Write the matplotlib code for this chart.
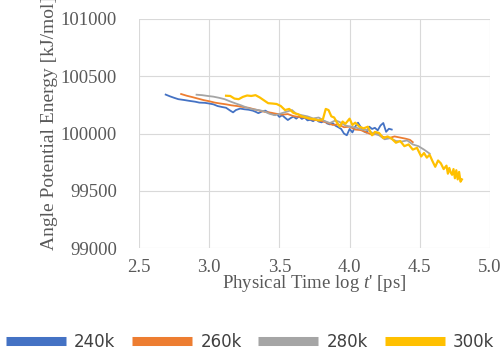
import numpy as np
import matplotlib
matplotlib.use('Agg')
import matplotlib.pyplot as plt
from matplotlib.lines import Line2D

# series: x = log t' [ps], y = angle potential energy [kJ/mol]
x240 = [2.69, 2.72, 2.75, 2.78, 2.82, 2.86, 2.90, 2.93, 2.97, 3.00, 3.03, 3.06, 3.09, 3.12, 3.15,
        3.17, 3.19, 3.22, 3.25, 3.28, 3.31, 3.33, 3.35, 3.38,
        3.40, 3.42, 3.44, 3.46, 3.48, 3.50, 3.52, 3.54, 3.56, 3.58, 3.60, 3.62, 3.64, 3.66, 3.68,
        3.70, 3.72, 3.74, 3.76, 3.78, 3.80, 3.82, 3.84, 3.86, 3.88, 3.90, 3.92, 3.94, 3.96, 3.98,
        4.00, 4.02, 4.04, 4.06, 4.08, 4.10, 4.12, 4.14, 4.16, 4.18, 4.20, 4.22, 4.24, 4.26, 4.28,
        4.30]
y240 = [100340, 100325, 100312, 100300, 100293, 100285, 100278, 100270, 100268, 100262, 100255,
        100240, 100232, 100225, 100200, 100185, 100205, 100218, 100212, 100208, 100200, 100190,
        100178, 100195,
        100200, 100185, 100178, 100165, 100172, 100145, 100160, 100138, 100118, 100135, 100148,
        100130, 100150, 100128, 100140, 100115, 100120, 100108, 100125, 100105, 100098, 100110,
        100088, 100080, 100090, 100068, 100055, 100040, 100000, 99985, 100040, 100010, 100060,
        100095, 100055, 100020, 100008, 100060, 100040, 100050, 100028, 100070, 100092, 100015,
        100042, 100035]

x260 = [2.80, 2.84, 2.88, 2.92, 2.96, 3.00, 3.04, 3.08, 3.12, 3.16, 3.20, 3.24, 3.28, 3.32, 3.36,
        3.40, 3.44, 3.48, 3.52, 3.56, 3.60, 3.64, 3.68, 3.72, 3.76, 3.80, 3.84, 3.88, 3.92, 3.96,
        4.00, 4.04, 4.08, 4.12, 4.16, 4.20, 4.24, 4.28, 4.32, 4.36, 4.40, 4.43, 4.45]
y260 = [100345, 100330, 100318, 100305, 100292, 100282, 100270, 100262, 100255, 100246, 100240,
        100232, 100225, 100212, 100200, 100188, 100182, 100172, 100165, 100170, 100152, 100145,
        100140, 100125, 100118, 100110, 100095, 100075, 100080, 100055, 100060, 100035, 100030,
        100010, 99990, 99998, 99970, 99960, 99975, 99965, 99955, 99945, 99925]

x280 = [2.91, 2.95, 2.99, 3.03, 3.07, 3.11, 3.15, 3.19, 3.23, 3.27, 3.31, 3.35, 3.39, 3.43, 3.47,
        3.51, 3.55, 3.59, 3.62, 3.66, 3.70, 3.74, 3.78, 3.82, 3.86, 3.90, 3.93, 3.97, 4.01, 4.05,
        4.09, 4.13, 4.17, 4.21, 4.25, 4.29, 4.33, 4.37, 4.41, 4.45, 4.49, 4.53, 4.57]
y280 = [100339, 100335, 100328, 100322, 100312, 100300, 100280, 100262, 100245, 100225, 100212,
        100205, 100195, 100172, 100160, 100175, 100190, 100205, 100172, 100160, 100150, 100132,
        100140, 100110, 100092, 100115, 100100, 100070, 100060, 100050, 100035, 100030, 100000,
        99985, 99950, 99960, 99935, 99930, 99940, 99905, 99890, 99860, 99825]

x300 = [3.12, 3.15, 3.18, 3.21, 3.24, 3.27, 3.30, 3.33, 3.36, 3.39, 3.42, 3.45, 3.48, 3.51, 3.54,
        3.57, 3.60, 3.63, 3.66, 3.69, 3.72, 3.75, 3.78, 3.81, 3.83, 3.85, 3.87, 3.89, 3.91, 3.93,
        3.95, 3.97, 4.00, 4.02, 4.04, 4.07, 4.10, 4.13, 4.16, 4.18, 4.21, 4.24, 4.27, 4.30, 4.33,
        4.36, 4.39, 4.42, 4.45, 4.48, 4.51, 4.53, 4.55, 4.57, 4.59, 4.61, 4.63, 4.65, 4.67, 4.69,
        4.70, 4.71, 4.72, 4.73, 4.74, 4.75, 4.76, 4.77, 4.78, 4.79, 4.80]
y300 = [100330, 100328, 100305, 100300, 100320, 100332, 100328, 100335, 100315, 100290, 100265,
        100262, 100258, 100240, 100205, 100215, 100180, 100170, 100150, 100140, 100130, 100125,
        100115, 100125, 100215, 100205, 100150, 100140, 100095, 100060, 100105, 100085, 100130,
        100075, 100095, 100060, 100045, 100060, 99985, 100015, 100005, 99960, 99975, 99955,
        99920, 99935, 99890, 99905, 99860, 99875, 99800, 99830, 99790, 99815, 99760, 99710,
        99765, 99740, 99690, 99720, 99650, 99700, 99660, 99640, 99690, 99610, 99680, 99600,
        99665, 99580, 99600]

labels = ['240k', '260k', '280k', '300k']
colors = ['#4472C4', '#ED7D31', '#A5A5A5', '#FFC000']
xticks = [2.5, 3.0, 3.5, 4.0, 4.5, 5.0]
yticks = [99000, 99500, 100000, 100500, 101000]

plt.rcParams['mathtext.fontset'] = 'custom'
plt.rcParams['mathtext.rm'] = 'Liberation Serif'
plt.rcParams['mathtext.it'] = 'Liberation Serif:italic'

fig = plt.figure(figsize=(5.0, 3.51), dpi=100)
ax = fig.add_axes([0.278, 0.293, 0.702, 0.653])

series = [(x240, y240), (x260, y260), (x280, y280), (x300, y300)]
widths = [1.3, 1.3, 1.3, 1.6]
for (xs, ys), c, lw in zip(series, colors, widths):
    ax.plot(xs, ys, color=c, lw=lw)

ax.set_xlim(2.5, 5.0)
ax.set_ylim(99000, 101000)
ax.set_xticks(xticks)
ax.set_xticklabels(['%.1f' % v for v in xticks])
ax.set_yticks(yticks)
ax.set_yticklabels([str(v) for v in yticks])
ax.grid(True, color='#D9D9D9', lw=0.8)
ax.set_axisbelow(True)
for s in ax.spines.values():
    s.set_visible(False)
ax.tick_params(length=0, labelsize=13.5, labelcolor='#595959')
ax.tick_params(axis='y', pad=16)
ax.tick_params(axis='x', pad=8)
for lab in ax.get_xticklabels() + ax.get_yticklabels():
    lab.set_fontfamily('Liberation Serif')

ax.set_xlabel("Physical Time log $t$' [ps]", fontsize=13.5, color='#595959',
              family='Liberation Serif', labelpad=-2)
ax.set_ylabel('Angle Potential Energy [kJ/mol]', fontsize=14, color='#595959',
              family='Liberation Serif')
ax.yaxis.set_label_coords(-0.231, 0.545)

handles = [Line2D([], [], color=c, lw=6.5, solid_capstyle='butt') for c in colors]
fig.legend(handles, labels, loc='center', bbox_to_anchor=(0.5, 0.027), ncol=4, frameon=False,
           handlelength=3.6, handletextpad=0.5, columnspacing=1.0,
           prop={'family': 'DejaVu Sans', 'size': 12}, labelcolor='#404040')

fig.savefig('out.png', dpi=100)
